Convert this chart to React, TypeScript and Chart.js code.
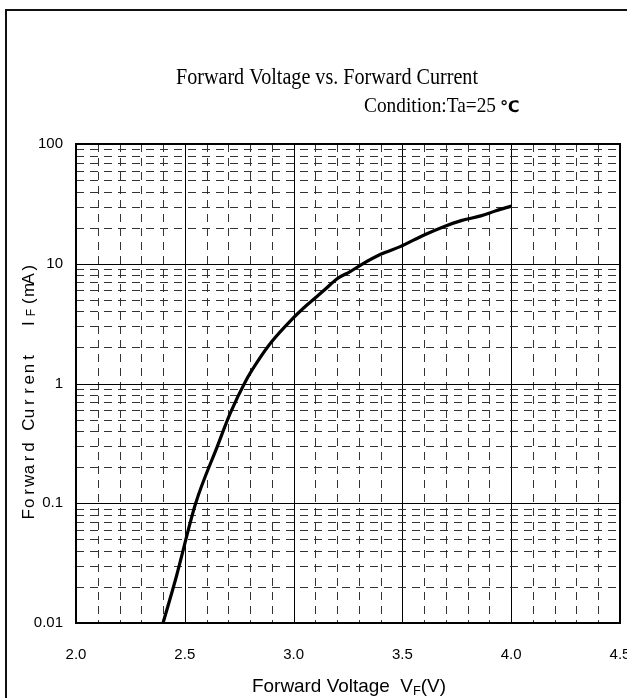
import React, { useEffect, useRef } from "react";
import { Chart, registerables } from "chart.js";

Chart.register(...registerables);

// ---- data ----
const voltage = [2.40, 2.46, 2.55, 2.65, 2.71, 2.78, 2.84, 2.90, 2.99, 3.06, 3.14, 3.20, 3.26, 3.31, 3.40, 3.49, 3.60, 3.69, 3.77, 3.86, 3.93, 4.00];
const current = [0.010, 0.024, 0.10, 0.30, 0.57, 1.05, 1.58, 2.24, 3.4, 4.5, 6.0, 7.5, 8.6, 9.8, 12.0, 13.9, 17.4, 20.4, 22.9, 25.1, 27.7, 30.3];

const xTickValues = [2.0, 2.5, 3.0, 3.5, 4.0, 4.5];
const xTickLabels = ["2.0", "2.5", "3.0", "3.5", "4.0", "4.5"];
const yTickValues = [0.01, 0.1, 1, 10, 100];
const yTickLabels = ["0.01", "0.1", "1", "10", "100"];
const xMinorStep = 0.1;
const yMinorMultipliers = [2, 3, 4, 5, 6, 7, 8, 9];

const titleText = "Forward Voltage vs. Forward Current";
const conditionText = "Condition:Ta=25";
const degreeText = "℃";
const xTitleMain = "Forward Voltage  V";
const xTitleSub = "F";
const xTitleEnd = "(V)";
const yTitleMain = "Forward Current  I";
const yTitleSub = "F";
const yTitleEnd = "(mA)";

type Run = { t: string; font: string; dy: number };

function drawRuns(
  ctx: CanvasRenderingContext2D,
  runs: Run[],
  cx: number,
  baseY: number,
  targetW: number | null,
  rot: number
) {
  ctx.save();
  ctx.translate(cx, baseY);
  if (rot) ctx.rotate(rot);
  let w = 0;
  for (const r of runs) {
    ctx.font = r.font;
    w += ctx.measureText(r.t).width;
  }
  const s = targetW ? targetW / w : 1;
  ctx.scale(s, 1);
  ctx.textAlign = "left";
  ctx.textBaseline = "alphabetic";
  ctx.fillStyle = "#000";
  let x = -w / 2;
  for (const r of runs) {
    ctx.font = r.font;
    ctx.fillText(r.t, x, r.dy);
    x += ctx.measureText(r.t).width;
  }
  ctx.restore();
}

function drawSpaced(
  ctx: CanvasRenderingContext2D,
  text: string,
  sub: string,
  end: string,
  cx: number,
  cy: number,
  total: number
) {
  // rotated (-90deg) monospace-like label with subscript
  const chars: { c: string; small: boolean }[] = [];
  for (const c of text) chars.push({ c, small: false });
  for (const c of sub) chars.push({ c, small: true });
  for (const c of end) chars.push({ c, small: false });
  const adv = total / chars.length;
  ctx.save();
  ctx.translate(cx, cy);
  ctx.rotate(-Math.PI / 2);
  ctx.textAlign = "center";
  ctx.textBaseline = "alphabetic";
  ctx.fillStyle = "#000";
  let x = -total / 2 + adv / 2;
  for (const ch of chars) {
    ctx.font = ch.small ? '12px "Liberation Sans"' : '17px "Liberation Sans"';
    ctx.fillText(ch.c, x, ch.small ? 7 : 6);
    x += adv;
  }
  ctx.restore();
}

const decorPlugin = {
  id: "decor",
  beforeDatasetsDraw(chart: any) {
    const ctx: CanvasRenderingContext2D = chart.ctx;
    const a = chart.chartArea;
    const xs = chart.scales.x;
    const ys = chart.scales.y;
    ctx.save();
    ctx.beginPath();
    ctx.rect(a.left, a.top, a.right - a.left, a.bottom - a.top);
    ctx.clip();
    ctx.lineWidth = 1;
    // vertical grid
    const nx = Math.round((xs.max - xs.min) / xMinorStep);
    for (let i = 1; i < nx; i++) {
      const v = xs.min + i * xMinorStep;
      const major = i % 5 === 0;
      const px = Math.round(xs.getPixelForValue(v)) + 0.5;
      ctx.setLineDash(major ? [] : [8, 6]);
      ctx.strokeStyle = major ? "#000" : "#333";
      ctx.beginPath();
      ctx.moveTo(px, a.top);
      ctx.lineTo(px, a.bottom);
      ctx.stroke();
    }
    // horizontal grid
    for (let d = 0; d < yTickValues.length - 1; d++) {
      const base = yTickValues[d];
      const lines: { v: number; major: boolean }[] = [];
      if (d > 0) lines.push({ v: base, major: true });
      for (const m of yMinorMultipliers) lines.push({ v: base * m, major: false });
      for (const ln of lines) {
        const py = Math.round(ys.getPixelForValue(ln.v)) + 0.5;
        ctx.setLineDash(ln.major ? [] : [8, 6]);
        ctx.strokeStyle = ln.major ? "#000" : "#333";
        ctx.beginPath();
        ctx.moveTo(a.left, py);
        ctx.lineTo(a.right, py);
        ctx.stroke();
      }
    }
    ctx.restore();
  },
  afterDraw(chart: any) {
    const ctx: CanvasRenderingContext2D = chart.ctx;
    const a = chart.chartArea;
    ctx.save();
    // plot border
    ctx.setLineDash([]);
    ctx.strokeStyle = "#000";
    ctx.lineWidth = 2;
    ctx.strokeRect(a.left, a.top, a.right - a.left, a.bottom - a.top);
    // outer frame (continues past the right / bottom edges)
    ctx.strokeStyle = "#111";
    ctx.lineWidth = 2;
    ctx.strokeRect(6, 10, 1000, 1000);
    ctx.restore();

    // titles
    drawRuns(ctx, [{ t: titleText, font: '24px "Liberation Serif"', dy: 0 }], 327, 84, 302, 0);
    drawRuns(ctx, [{ t: conditionText, font: '21px "Liberation Serif"', dy: 0 }], 430, 112, 132, 0);
    ctx.save();
    ctx.font = 'bold 16px "DejaVu Sans"';
    ctx.fillStyle = "#000";
    ctx.textAlign = "left";
    ctx.textBaseline = "alphabetic";
    ctx.fillText(degreeText, 500, 112);
    ctx.restore();

    // x axis title
    drawRuns(
      ctx,
      [
        { t: xTitleMain, font: '19px "Liberation Sans"', dy: 0 },
        { t: xTitleSub, font: '13px "Liberation Sans"', dy: 3 },
        { t: xTitleEnd, font: '19px "Liberation Sans"', dy: 0 },
      ],
      349,
      692,
      194,
      0
    );
    // y axis title
    drawSpaced(ctx, yTitleMain, yTitleSub, yTitleEnd, 28, 391, 258);
  },
};

export default function App() {
  const ref = useRef<HTMLCanvasElement | null>(null);
  useEffect(() => {
    if (!ref.current) return;
    const points = voltage.map((v, i) => ({ x: v, y: current[i] }));
    const chart = new Chart(ref.current, {
      type: "line",
      data: {
        datasets: [
          {
            data: points,
            borderColor: "#000",
            borderWidth: 3.2,
            pointRadius: 0,
            fill: false,
            cubicInterpolationMode: "monotone",
          },
        ],
      },
      options: {
        animation: false,
        responsive: false,
        devicePixelRatio: 1,
        layout: { padding: { left: 0, top: 144, right: 7, bottom: 0 } },
        plugins: {
          legend: { display: false },
          title: { display: false },
          tooltip: { enabled: false },
        },
        scales: {
          x: {
            type: "linear",
            min: 2.0,
            max: 4.5,
            grid: { display: false, drawTicks: false },
            border: { display: false },
            afterBuildTicks: (s: any) => {
              s.ticks = xTickValues.map((v) => ({ value: v }));
            },
            afterFit: (s: any) => {
              s.height = 75;
              s.paddingLeft = 0;
              s.paddingRight = 0;
            },
            ticks: {
              autoSkip: false,
              maxRotation: 0,
              padding: 23,
              color: "#000",
              font: { family: '"Liberation Sans"', size: 15 },
              callback: (_v: any, i: number) => xTickLabels[i],
            },
          },
          y: {
            type: "logarithmic",
            min: 0.01,
            max: 100,
            grid: { display: false, drawTicks: false },
            border: { display: false },
            afterBuildTicks: (s: any) => {
              s.ticks = yTickValues.map((v) => ({ value: v }));
            },
            afterFit: (s: any) => {
              s.width = 76;
              s.paddingTop = 0;
              s.paddingBottom = 0;
            },
            ticks: {
              autoSkip: false,
              padding: 13,
              color: "#000",
              font: { family: '"Liberation Sans"', size: 15 },
              callback: (_v: any, i: number) => yTickLabels[i],
            },
          },
        },
      },
      plugins: [decorPlugin],
    });
    return () => chart.destroy();
  }, []);
  return (
    <div style={{ position: "absolute", left: 0, top: 0, width: 627, height: 698, background: "#fff" }}>
      <canvas ref={ref} width={627} height={698} style={{ display: "block" }} />
    </div>
  );
}
